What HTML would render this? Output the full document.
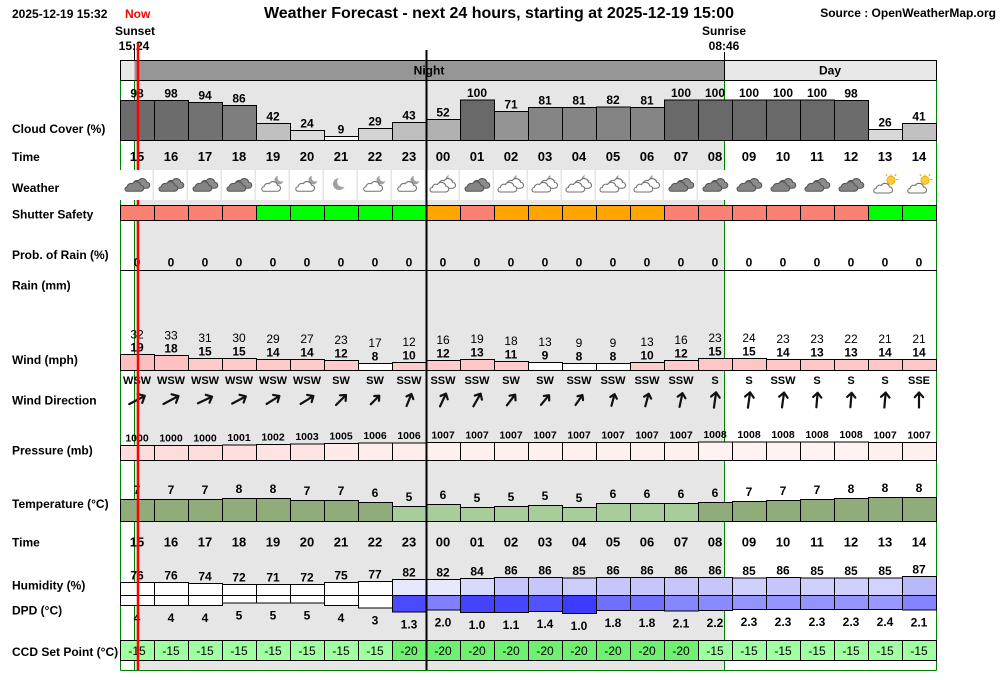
<!DOCTYPE html>
<html><head><meta charset="utf-8"><style>html,body{margin:0;padding:0;background:#fff}svg{display:block}</style></head>
<body>
<svg xmlns="http://www.w3.org/2000/svg" xmlns:xlink="http://www.w3.org/1999/xlink" width="1000" height="680" viewBox="0 0 1000 680" font-family="'Liberation Sans', Arial, sans-serif">
<defs>
<path id="cl" d="M-9 5H9A4 4 0 0 0 9 -3A6 6 0 0 0 -2 -5A5 5 0 0 0 -9 -1A3 3 0 0 0 -9 5Z"/>
<g id="dk" transform="scale(0.75)">
 <use href="#cl" xlink:href="#cl" transform="translate(4,-2)" fill="#8c8c8c" stroke="#555" stroke-width="1.4"/>
 <use href="#cl" xlink:href="#cl" transform="translate(-4,2)" fill="#848484" stroke="#555" stroke-width="1.4"/>
</g>
<g id="cm" transform="scale(0.75)">
 <circle cx="8" cy="-8" r="6" fill="#a0a0a0"/>
 <circle cx="11" cy="-11" r="5" fill="#fff"/>
 <use href="#cl" xlink:href="#cl" transform="translate(-3,2)" fill="#fff" stroke="#707070" stroke-width="1.4"/>
</g>
<g id="mn" transform="scale(0.75)">
 <circle cx="0" cy="0" r="8" fill="#a0a0a0"/>
 <circle cx="4.5" cy="-3" r="7" fill="#fff"/>
</g>
<g id="bn" transform="scale(0.75)">
 <circle cx="10" cy="-9" r="5.5" fill="#a8a8a8"/>
 <circle cx="13" cy="-12" r="4.5" fill="#fff"/>
 <use href="#cl" xlink:href="#cl" transform="translate(5,-2)" fill="#fff" stroke="#707070" stroke-width="1.4"/>
 <use href="#cl" xlink:href="#cl" transform="translate(-4,3)" fill="#fff" stroke="#707070" stroke-width="1.4"/>
</g>
<g id="cs" transform="scale(0.75)">
 <g stroke="#e6a000" stroke-width="1.4">
  <line x1="8" y1="-17" x2="8" y2="-14"/><line x1="15" y1="-10" x2="18" y2="-10"/><line x1="13" y1="-15" x2="15" y2="-17"/><line x1="3" y1="-15" x2="1" y2="-17"/>
 </g>
 <circle cx="8" cy="-9" r="5.5" fill="#ffcc33" stroke="#e6a000" stroke-width="1"/>
 <use href="#cl" xlink:href="#cl" transform="translate(-3,3)" fill="#fff" stroke="#707070" stroke-width="1.4"/>
</g>
<path id="ar" d="M0 8V-8M-4.5 -3L0 -8L4.5 -3" fill="none" stroke="#111" stroke-width="2.2" stroke-linecap="round" stroke-linejoin="round" vector-effect="non-scaling-stroke"/>
</defs>

<rect width="1000" height="680" fill="#fff"/>
<rect x="134.5" y="80.5" width="590" height="590" fill="#e6e6e6"/>

<!-- top texts -->
<g font-size="12" font-weight="bold">
<text x="12" y="18">2025-12-19 15:32</text>
<text x="125" y="18" fill="#ff0000">Now</text>
<text x="996" y="17" text-anchor="end">Source : OpenWeatherMap.org</text>
<text x="135" y="35" text-anchor="middle">Sunset</text>
<text x="134" y="50" text-anchor="middle">15:24</text>
<text x="724" y="35" text-anchor="middle">Sunrise</text>
<text x="724" y="50" text-anchor="middle">08:46</text>
</g>
<text x="499" y="18" font-size="16" font-weight="bold" text-anchor="middle">Weather Forecast - next 24 hours, starting at 2025-12-19 15:00</text>

<!-- header bar -->
<rect x="120.5" y="60.5" width="816" height="20" fill="#e8e8e8" stroke="#000"/>
<rect x="134.5" y="61" width="590" height="19" fill="#969696"/>
<line x1="134.5" y1="45" x2="134.5" y2="60.5" stroke="#000"/>
<line x1="724.5" y1="52" x2="724.5" y2="80.5" stroke="#000"/>
<g font-size="12" font-weight="bold" text-anchor="middle">
<text x="429" y="74.5">Night</text>
<text x="830" y="74.5">Day</text>
</g>

<!-- green frame lines -->
<g stroke="#008000" stroke-width="1">
<line x1="120.5" y1="80.5" x2="120.5" y2="670.5"/>
<line x1="936.5" y1="80.5" x2="936.5" y2="670.5"/>
<line x1="120.5" y1="670.5" x2="936.5" y2="670.5"/>
<line x1="134.5" y1="80.5" x2="134.5" y2="670.5"/>
<line x1="724.5" y1="80.5" x2="724.5" y2="670.5"/>
</g>

<!-- row labels -->
<g font-size="12" font-weight="bold">
<text x="12" y="133">Cloud Cover (%)</text>
<text x="12" y="161">Time</text>
<text x="12" y="192">Weather</text>
<text x="12" y="218.5">Shutter Safety</text>
<text x="12" y="259">Prob. of Rain (%)</text>
<text x="12" y="289.5">Rain (mm)</text>
<text x="12" y="364">Wind (mph)</text>
<text x="12" y="404.5">Wind Direction</text>
<text x="12" y="454.5">Pressure (mb)</text>
<text x="12" y="508">Temperature (°C)</text>
<text x="12" y="546.5">Time</text>
<text x="12" y="589.5">Humidity (%)</text>
<text x="12" y="614.5">DPD (°C)</text>
<text x="12" y="656">CCD Set Point (°C)</text>
</g>

<!-- cloud bars -->
<g stroke="#000" stroke-width="1">
<rect x="120.5" y="100.5" width="34" height="40" fill="#6c6c6c"/>
<rect x="154.5" y="100.5" width="34" height="40" fill="#6c6c6c"/>
<rect x="188.5" y="102.5" width="34" height="38" fill="#727272"/>
<rect x="222.5" y="105.5" width="34" height="35" fill="#7e7e7e"/>
<rect x="256.5" y="123.5" width="34" height="17" fill="#c0c0c0"/>
<rect x="290.5" y="130.5" width="34" height="10" fill="#dbdbdb"/>
<rect x="324.5" y="136.5" width="34" height="4" fill="#f6f6f6"/>
<rect x="358.5" y="128.5" width="34" height="12" fill="#d3d3d3"/>
<rect x="392.5" y="122.5" width="34" height="18" fill="#bebebe"/>
<rect x="426.5" y="119.5" width="34" height="21" fill="#b1b1b1"/>
<rect x="460.5" y="100" width="34" height="40.5" fill="#696969"/>
<rect x="494.5" y="111.5" width="34" height="29" fill="#949494"/>
<rect x="528.5" y="107.5" width="34" height="33" fill="#858585"/>
<rect x="562.5" y="107.5" width="34" height="33" fill="#858585"/>
<rect x="596.5" y="107" width="34" height="33.5" fill="#848484"/>
<rect x="630.5" y="107.5" width="34" height="33" fill="#858585"/>
<rect x="664.5" y="100" width="34" height="40.5" fill="#696969"/>
<rect x="698.5" y="100" width="34" height="40.5" fill="#696969"/>
<rect x="732.5" y="100" width="34" height="40.5" fill="#696969"/>
<rect x="766.5" y="100" width="34" height="40.5" fill="#696969"/>
<rect x="800.5" y="100" width="34" height="40.5" fill="#696969"/>
<rect x="834.5" y="100.5" width="34" height="40" fill="#6c6c6c"/>
<rect x="868.5" y="129.5" width="34" height="11" fill="#d8d8d8"/>
<rect x="902.5" y="123.5" width="34" height="17" fill="#c1c1c1"/>
</g>
<g font-size="12" font-weight="bold" text-anchor="middle">
<text x="137" y="97.5">98</text><text x="171" y="97.5">98</text><text x="205" y="99.5">94</text><text x="239" y="102.5">86</text>
<text x="273" y="120.5">42</text><text x="307" y="127.5">24</text><text x="341" y="133.5">9</text><text x="375" y="125.5">29</text>
<text x="409" y="119.5">43</text><text x="443" y="116.5">52</text><text x="477" y="97">100</text><text x="511" y="108.5">71</text>
<text x="545" y="104.5">81</text><text x="579" y="104.5">81</text><text x="613" y="104">82</text><text x="647" y="104.5">81</text>
<text x="681" y="97">100</text><text x="715" y="97">100</text><text x="749" y="97">100</text><text x="783" y="97">100</text>
<text x="817" y="97">100</text><text x="851" y="97.5">98</text><text x="885" y="126.5">26</text><text x="919" y="120.5">41</text>
</g>

<!-- time row 1 -->
<g font-size="13" font-weight="bold" text-anchor="middle">
<text x="137" y="161">15</text><text x="171" y="161">16</text><text x="205" y="161">17</text><text x="239" y="161">18</text>
<text x="273" y="161">19</text><text x="307" y="161">20</text><text x="341" y="161">21</text><text x="375" y="161">22</text>
<text x="409" y="161">23</text><text x="443" y="161">00</text><text x="477" y="161">01</text><text x="511" y="161">02</text>
<text x="545" y="161">03</text><text x="579" y="161">04</text><text x="613" y="161">05</text><text x="647" y="161">06</text>
<text x="681" y="161">07</text><text x="715" y="161">08</text><text x="749" y="161">09</text><text x="783" y="161">10</text>
<text x="817" y="161">11</text><text x="851" y="161">12</text><text x="885" y="161">13</text><text x="919" y="161">14</text>
</g>

<!-- prob of rain -->
<g font-size="12" font-weight="bold" text-anchor="middle">
<text x="137" y="266.5">0</text><text x="171" y="266.5">0</text><text x="205" y="266.5">0</text><text x="239" y="266.5">0</text>
<text x="273" y="266.5">0</text><text x="307" y="266.5">0</text><text x="341" y="266.5">0</text><text x="375" y="266.5">0</text>
<text x="409" y="266.5">0</text><text x="443" y="266.5">0</text><text x="477" y="266.5">0</text><text x="511" y="266.5">0</text>
<text x="545" y="266.5">0</text><text x="579" y="266.5">0</text><text x="613" y="266.5">0</text><text x="647" y="266.5">0</text>
<text x="681" y="266.5">0</text><text x="715" y="266.5">0</text><text x="749" y="266.5">0</text><text x="783" y="266.5">0</text>
<text x="817" y="266.5">0</text><text x="851" y="266.5">0</text><text x="885" y="266.5">0</text><text x="919" y="266.5">0</text>
</g>
<line x1="120" y1="270.5" x2="937" y2="270.5" stroke="#000"/>

<!-- wind bars -->
<g stroke="#000" stroke-width="1">
<rect x="120.5" y="354.5" width="34" height="16" fill="#ffbebe"/>
<rect x="154.5" y="355.5" width="34" height="15" fill="#ffc0c0"/>
<rect x="188.5" y="358.5" width="34" height="12" fill="#ffcaca"/>
<rect x="222.5" y="358.5" width="34" height="12" fill="#ffcaca"/>
<rect x="256.5" y="359.5" width="34" height="11" fill="#ffcaca"/>
<rect x="290.5" y="359.5" width="34" height="11" fill="#ffcaca"/>
<rect x="324.5" y="360.5" width="34" height="10" fill="#ffcaca"/>
<rect x="358.5" y="363.5" width="34" height="7" fill="#ffffff"/>
<rect x="392.5" y="362.5" width="34" height="8" fill="#ffcccc"/>
<rect x="426.5" y="360.5" width="34" height="10" fill="#ffcaca"/>
<rect x="460.5" y="359.5" width="34" height="11" fill="#ffc8c8"/>
<rect x="494.5" y="361.5" width="34" height="9" fill="#ffcccc"/>
<rect x="528.5" y="362.5" width="34" height="8" fill="#ffffff"/>
<rect x="562.5" y="363.5" width="34" height="7" fill="#ffffff"/>
<rect x="596.5" y="363.5" width="34" height="7" fill="#ffffff"/>
<rect x="630.5" y="362.5" width="34" height="8" fill="#ffcccc"/>
<rect x="664.5" y="360.5" width="34" height="10" fill="#ffcaca"/>
<rect x="698.5" y="358.5" width="34" height="12" fill="#ffc6c6"/>
<rect x="732.5" y="358.5" width="34" height="12" fill="#ffc6c6"/>
<rect x="766.5" y="359.5" width="34" height="11" fill="#ffc8c8"/>
<rect x="800.5" y="359.5" width="34" height="11" fill="#ffc8c8"/>
<rect x="834.5" y="359.5" width="34" height="11" fill="#ffc8c8"/>
<rect x="868.5" y="359.5" width="34" height="11" fill="#ffc8c8"/>
<rect x="902.5" y="359.5" width="34" height="11" fill="#ffc8c8"/>
</g>
<g font-size="12" text-anchor="middle">
<text x="137" y="338.5">32</text><text x="171" y="339.5">33</text><text x="205" y="342">31</text><text x="239" y="342">30</text>
<text x="273" y="343">29</text><text x="307" y="343">27</text><text x="341" y="344">23</text><text x="375" y="347">17</text>
<text x="409" y="346">12</text><text x="443" y="344">16</text><text x="477" y="343">19</text><text x="511" y="345">18</text>
<text x="545" y="346">13</text><text x="579" y="347">9</text><text x="613" y="347">9</text><text x="647" y="346">13</text>
<text x="681" y="344">16</text><text x="715" y="342">23</text><text x="749" y="342">24</text><text x="783" y="343">23</text>
<text x="817" y="343">23</text><text x="851" y="343">22</text><text x="885" y="343">21</text><text x="919" y="343">21</text>
</g>
<g font-size="12" font-weight="bold" text-anchor="middle">
<text x="137" y="351.5">19</text><text x="171" y="352.5">18</text><text x="205" y="355.5">15</text><text x="239" y="355.5">15</text>
<text x="273" y="356.5">14</text><text x="307" y="356.5">14</text><text x="341" y="357.5">12</text><text x="375" y="360.5">8</text>
<text x="409" y="359.5">10</text><text x="443" y="357.5">12</text><text x="477" y="356.5">13</text><text x="511" y="358.5">11</text>
<text x="545" y="359.5">9</text><text x="579" y="360.5">8</text><text x="613" y="360.5">8</text><text x="647" y="359.5">10</text>
<text x="681" y="357.5">12</text><text x="715" y="355.5">15</text><text x="749" y="355.5">15</text><text x="783" y="356.5">14</text>
<text x="817" y="356.5">13</text><text x="851" y="356.5">13</text><text x="885" y="356.5">14</text><text x="919" y="356.5">14</text>
</g>

<!-- wind direction -->
<g font-size="11" font-weight="bold" text-anchor="middle">
<text x="137" y="384">WSW</text><text x="171" y="384">WSW</text><text x="205" y="384">WSW</text><text x="239" y="384">WSW</text>
<text x="273" y="384">WSW</text><text x="307" y="384">WSW</text><text x="341" y="384">SW</text><text x="375" y="384">SW</text>
<text x="409" y="384">SSW</text><text x="443" y="384">SSW</text><text x="477" y="384">SSW</text><text x="511" y="384">SW</text>
<text x="545" y="384">SW</text><text x="579" y="384">SSW</text><text x="613" y="384">SSW</text><text x="647" y="384">SSW</text>
<text x="681" y="384">SSW</text><text x="715" y="384">S</text><text x="749" y="384">S</text><text x="783" y="384">SSW</text>
<text x="817" y="384">S</text><text x="851" y="384">S</text><text x="885" y="384">S</text><text x="919" y="384">SSE</text>
</g>
<g>
<use href="#ar" xlink:href="#ar" transform="translate(137,400) rotate(62) scale(1.1)"/>
<use href="#ar" xlink:href="#ar" transform="translate(171,400) rotate(62) scale(1.06)"/>
<use href="#ar" xlink:href="#ar" transform="translate(205,400) rotate(65) scale(0.97)"/>
<use href="#ar" xlink:href="#ar" transform="translate(239,400) rotate(62) scale(0.97)"/>
<use href="#ar" xlink:href="#ar" transform="translate(273,400) rotate(58) scale(0.94)"/>
<use href="#ar" xlink:href="#ar" transform="translate(307,400) rotate(58) scale(0.94)"/>
<use href="#ar" xlink:href="#ar" transform="translate(341,400) rotate(45) scale(0.88)"/>
<use href="#ar" xlink:href="#ar" transform="translate(375,400) rotate(45) scale(0.75)"/>
<use href="#ar" xlink:href="#ar" transform="translate(409,400) rotate(22) scale(0.81)"/>
<use href="#ar" xlink:href="#ar" transform="translate(443,400) rotate(25) scale(0.88)"/>
<use href="#ar" xlink:href="#ar" transform="translate(477,400) rotate(30) scale(0.91)"/>
<use href="#ar" xlink:href="#ar" transform="translate(511,400) rotate(38) scale(0.84)"/>
<use href="#ar" xlink:href="#ar" transform="translate(545,400) rotate(40) scale(0.78)"/>
<use href="#ar" xlink:href="#ar" transform="translate(579,400) rotate(35) scale(0.75)"/>
<use href="#ar" xlink:href="#ar" transform="translate(613,400) rotate(15) scale(0.75)"/>
<use href="#ar" xlink:href="#ar" transform="translate(647,400) rotate(15) scale(0.81)"/>
<use href="#ar" xlink:href="#ar" transform="translate(681,400) rotate(12) scale(0.88)"/>
<use href="#ar" xlink:href="#ar" transform="translate(715,400) rotate(8) scale(0.97)"/>
<use href="#ar" xlink:href="#ar" transform="translate(749,400) rotate(8) scale(0.97)"/>
<use href="#ar" xlink:href="#ar" transform="translate(783,400) rotate(8) scale(0.94)"/>
<use href="#ar" xlink:href="#ar" transform="translate(817,400) rotate(5) scale(0.91)"/>
<use href="#ar" xlink:href="#ar" transform="translate(851,400) rotate(5) scale(0.91)"/>
<use href="#ar" xlink:href="#ar" transform="translate(885,400) rotate(5) scale(0.94)"/>
<use href="#ar" xlink:href="#ar" transform="translate(919,400) rotate(0) scale(0.94)"/>
</g>

<!-- pressure -->
<g stroke="#000" stroke-width="1">
<rect x="120.5" y="445.5" width="34" height="15" fill="#ffdcdc"/>
<rect x="154.5" y="445.5" width="34" height="15" fill="#ffdcdc"/>
<rect x="188.5" y="445.5" width="34" height="15" fill="#ffdcdc"/>
<rect x="222.5" y="445" width="34" height="15.5" fill="#ffdede"/>
<rect x="256.5" y="444.5" width="34" height="16" fill="#ffe2e2"/>
<rect x="290.5" y="444" width="34" height="16.5" fill="#ffe4e4"/>
<rect x="324.5" y="443.5" width="34" height="17" fill="#ffeaea"/>
<rect x="358.5" y="443" width="34" height="17.5" fill="#ffecec"/>
<rect x="392.5" y="443" width="34" height="17.5" fill="#ffecec"/>
<rect x="426.5" y="442.5" width="34" height="18" fill="#fff0f0"/>
<rect x="460.5" y="442.5" width="34" height="18" fill="#fff0f0"/>
<rect x="494.5" y="442.5" width="34" height="18" fill="#fff0f0"/>
<rect x="528.5" y="442.5" width="34" height="18" fill="#fff0f0"/>
<rect x="562.5" y="442.5" width="34" height="18" fill="#fff0f0"/>
<rect x="596.5" y="442.5" width="34" height="18" fill="#fff0f0"/>
<rect x="630.5" y="442.5" width="34" height="18" fill="#fff0f0"/>
<rect x="664.5" y="442.5" width="34" height="18" fill="#fff0f0"/>
<rect x="698.5" y="442" width="34" height="18.5" fill="#fff2f2"/>
<rect x="732.5" y="442" width="34" height="18.5" fill="#fff2f2"/>
<rect x="766.5" y="442" width="34" height="18.5" fill="#fff2f2"/>
<rect x="800.5" y="442" width="34" height="18.5" fill="#fff2f2"/>
<rect x="834.5" y="442" width="34" height="18.5" fill="#fff2f2"/>
<rect x="868.5" y="442.5" width="34" height="18" fill="#fff0f0"/>
<rect x="902.5" y="442.5" width="34" height="18" fill="#fff0f0"/>
</g>
<g font-size="10.5" font-weight="bold" text-anchor="middle">
<text x="137" y="441.5">1000</text><text x="171" y="441.5">1000</text><text x="205" y="441.5">1000</text><text x="239" y="441">1001</text>
<text x="273" y="440.5">1002</text><text x="307" y="440">1003</text><text x="341" y="439.5">1005</text><text x="375" y="439">1006</text>
<text x="409" y="439">1006</text><text x="443" y="438.5">1007</text><text x="477" y="438.5">1007</text><text x="511" y="438.5">1007</text>
<text x="545" y="438.5">1007</text><text x="579" y="438.5">1007</text><text x="613" y="438.5">1007</text><text x="647" y="438.5">1007</text>
<text x="681" y="438.5">1007</text><text x="715" y="438">1008</text><text x="749" y="438">1008</text><text x="783" y="438">1008</text>
<text x="817" y="438">1008</text><text x="851" y="438">1008</text><text x="885" y="438.5">1007</text><text x="919" y="438.5">1007</text>
</g>

<!-- temperature -->
<g stroke="#000" stroke-width="1">
<rect x="120.5" y="499.5" width="34" height="22" fill="#8fac7a"/>
<rect x="154.5" y="499.5" width="34" height="22" fill="#8fac7a"/>
<rect x="188.5" y="499.5" width="34" height="22" fill="#8fac7a"/>
<rect x="222.5" y="498.5" width="34" height="23" fill="#8fac7a"/>
<rect x="256.5" y="498.5" width="34" height="23" fill="#8fac7a"/>
<rect x="290.5" y="500.5" width="34" height="21" fill="#8fac7a"/>
<rect x="324.5" y="500.5" width="34" height="21" fill="#8fac7a"/>
<rect x="358.5" y="502.5" width="34" height="19" fill="#8fac7a"/>
<rect x="392.5" y="506.5" width="34" height="15" fill="#a8cd9a"/>
<rect x="426.5" y="504.5" width="34" height="17" fill="#a8cd9a"/>
<rect x="460.5" y="507.5" width="34" height="14" fill="#a8cd9a"/>
<rect x="494.5" y="506.5" width="34" height="15" fill="#a8cd9a"/>
<rect x="528.5" y="505.5" width="34" height="16" fill="#a8cd9a"/>
<rect x="562.5" y="507.5" width="34" height="14" fill="#a8cd9a"/>
<rect x="596.5" y="503.5" width="34" height="18" fill="#a8cd9a"/>
<rect x="630.5" y="503.5" width="34" height="18" fill="#a8cd9a"/>
<rect x="664.5" y="503.5" width="34" height="18" fill="#a8cd9a"/>
<rect x="698.5" y="502.5" width="34" height="19" fill="#8fac7a"/>
<rect x="732.5" y="501.5" width="34" height="20" fill="#8fac7a"/>
<rect x="766.5" y="500.5" width="34" height="21" fill="#8fac7a"/>
<rect x="800.5" y="499.5" width="34" height="22" fill="#8fac7a"/>
<rect x="834.5" y="498.5" width="34" height="23" fill="#8fac7a"/>
<rect x="868.5" y="497.5" width="34" height="24" fill="#8fac7a"/>
<rect x="902.5" y="497.5" width="34" height="24" fill="#8fac7a"/>
</g>
<g font-size="12" font-weight="bold" text-anchor="middle">
<text x="137" y="494">7</text><text x="171" y="494">7</text><text x="205" y="494">7</text><text x="239" y="493">8</text>
<text x="273" y="493">8</text><text x="307" y="495">7</text><text x="341" y="495">7</text><text x="375" y="497">6</text>
<text x="409" y="501">5</text><text x="443" y="499">6</text><text x="477" y="502">5</text><text x="511" y="501">5</text>
<text x="545" y="500">5</text><text x="579" y="502">5</text><text x="613" y="498">6</text><text x="647" y="498">6</text>
<text x="681" y="498">6</text><text x="715" y="497">6</text><text x="749" y="496">7</text><text x="783" y="495">7</text>
<text x="817" y="494">7</text><text x="851" y="493">8</text><text x="885" y="492">8</text><text x="919" y="492">8</text>
</g>

<!-- time row 2 -->
<g font-size="13" font-weight="bold" text-anchor="middle">
<text x="137" y="546.5">15</text><text x="171" y="546.5">16</text><text x="205" y="546.5">17</text><text x="239" y="546.5">18</text>
<text x="273" y="546.5">19</text><text x="307" y="546.5">20</text><text x="341" y="546.5">21</text><text x="375" y="546.5">22</text>
<text x="409" y="546.5">23</text><text x="443" y="546.5">00</text><text x="477" y="546.5">01</text><text x="511" y="546.5">02</text>
<text x="545" y="546.5">03</text><text x="579" y="546.5">04</text><text x="613" y="546.5">05</text><text x="647" y="546.5">06</text>
<text x="681" y="546.5">07</text><text x="715" y="546.5">08</text><text x="749" y="546.5">09</text><text x="783" y="546.5">10</text>
<text x="817" y="546.5">11</text><text x="851" y="546.5">12</text><text x="885" y="546.5">13</text><text x="919" y="546.5">14</text>
</g>

<!-- humidity -->
<g stroke="#000" stroke-width="1">
<rect x="120.5" y="582.5" width="34" height="13" fill="#fff"/>
<rect x="154.5" y="582.5" width="34" height="13" fill="#fff"/>
<rect x="188.5" y="583.5" width="34" height="12" fill="#fff"/>
<rect x="222.5" y="584.5" width="34" height="11" fill="#fff"/>
<rect x="256.5" y="584.5" width="34" height="11" fill="#fff"/>
<rect x="290.5" y="584.5" width="34" height="11" fill="#fff"/>
<rect x="324.5" y="582.5" width="34" height="13" fill="#fff"/>
<rect x="358.5" y="581.5" width="34" height="14" fill="#fff"/>
<rect x="392.5" y="579.5" width="34" height="16" fill="#e8e8fd"/>
<rect x="426.5" y="579.5" width="34" height="16" fill="#e8e8fd"/>
<rect x="460.5" y="578.5" width="34" height="17" fill="#d8d8fd"/>
<rect x="494.5" y="577.5" width="34" height="18" fill="#c6c6fd"/>
<rect x="528.5" y="577.5" width="34" height="18" fill="#c6c6fd"/>
<rect x="562.5" y="578" width="34" height="17.5" fill="#cdcdfd"/>
<rect x="596.5" y="577.5" width="34" height="18" fill="#c6c6fd"/>
<rect x="630.5" y="577.5" width="34" height="18" fill="#c6c6fd"/>
<rect x="664.5" y="577.5" width="34" height="18" fill="#c6c6fd"/>
<rect x="698.5" y="577.5" width="34" height="18" fill="#c6c6fd"/>
<rect x="732.5" y="578" width="34" height="17.5" fill="#d0d0fe"/>
<rect x="766.5" y="577.5" width="34" height="18" fill="#c6c6fd"/>
<rect x="800.5" y="578" width="34" height="17.5" fill="#d0d0fe"/>
<rect x="834.5" y="578" width="34" height="17.5" fill="#d0d0fe"/>
<rect x="868.5" y="578" width="34" height="17.5" fill="#d2d2fe"/>
<rect x="902.5" y="576.5" width="34" height="19" fill="#b8b8fd"/>
</g>
<g font-size="12" font-weight="bold" text-anchor="middle">
<text x="137" y="579.5">76</text><text x="171" y="579.5">76</text><text x="205" y="580.5">74</text><text x="239" y="581.5">72</text>
<text x="273" y="581.5">71</text><text x="307" y="581.5">72</text><text x="341" y="579.5">75</text><text x="375" y="578.5">77</text>
<text x="409" y="576.5">82</text><text x="443" y="576.5">82</text><text x="477" y="575.5">84</text><text x="511" y="574.5">86</text>
<text x="545" y="574.5">86</text><text x="579" y="575">85</text><text x="613" y="574.5">86</text><text x="647" y="574.5">86</text>
<text x="681" y="574.5">86</text><text x="715" y="574.5">86</text><text x="749" y="575">85</text><text x="783" y="574.5">86</text>
<text x="817" y="575">85</text><text x="851" y="575">85</text><text x="885" y="575">85</text><text x="919" y="573.5">87</text>
</g>

<!-- DPD -->
<g stroke="#000" stroke-width="1">
<rect x="120.5" y="595.5" width="34" height="10" fill="#fff"/>
<rect x="154.5" y="595.5" width="34" height="10" fill="#fff"/>
<rect x="188.5" y="595.5" width="34" height="10" fill="#fff"/>
<rect x="222.5" y="595.5" width="34" height="7.5" fill="#fff"/>
<rect x="256.5" y="595.5" width="34" height="7.5" fill="#fff"/>
<rect x="290.5" y="595.5" width="34" height="7.5" fill="#fff"/>
<rect x="324.5" y="595.5" width="34" height="10" fill="#fff"/>
<rect x="358.5" y="595.5" width="34" height="12.5" fill="#fff"/>
<rect x="392.5" y="595.5" width="34" height="16.5" fill="#4a4aff"/>
<rect x="426.5" y="595.5" width="34" height="14.5" fill="#8080ff"/>
<rect x="460.5" y="595.5" width="34" height="17" fill="#4444ff"/>
<rect x="494.5" y="595.5" width="34" height="17" fill="#4646ff"/>
<rect x="528.5" y="595.5" width="34" height="16" fill="#5252ff"/>
<rect x="562.5" y="595.5" width="34" height="18" fill="#3c3cff"/>
<rect x="596.5" y="595.5" width="34" height="15" fill="#7070ff"/>
<rect x="630.5" y="595.5" width="34" height="15" fill="#7070ff"/>
<rect x="664.5" y="595.5" width="34" height="15.5" fill="#8686ff"/>
<rect x="698.5" y="595.5" width="34" height="15" fill="#8a8aff"/>
<rect x="732.5" y="595.5" width="34" height="14" fill="#9494ff"/>
<rect x="766.5" y="595.5" width="34" height="14" fill="#9494ff"/>
<rect x="800.5" y="595.5" width="34" height="14" fill="#9494ff"/>
<rect x="834.5" y="595.5" width="34" height="14" fill="#9494ff"/>
<rect x="868.5" y="595.5" width="34" height="14" fill="#9898ff"/>
<rect x="902.5" y="595.5" width="34" height="14.5" fill="#8484ff"/>
</g>
<g font-size="12" font-weight="bold" text-anchor="middle">
<text x="137" y="622">4</text><text x="171" y="622">4</text><text x="205" y="622">4</text><text x="239" y="619.5">5</text>
<text x="273" y="619.5">5</text><text x="307" y="619.5">5</text><text x="341" y="622">4</text><text x="375" y="624.5">3</text>
<text x="409" y="628.5">1.3</text><text x="443" y="626.5">2.0</text><text x="477" y="629">1.0</text><text x="511" y="629">1.1</text>
<text x="545" y="628">1.4</text><text x="579" y="630">1.0</text><text x="613" y="627">1.8</text><text x="647" y="627">1.8</text>
<text x="681" y="627.5">2.1</text><text x="715" y="627">2.2</text><text x="749" y="626">2.3</text><text x="783" y="626">2.3</text>
<text x="817" y="626">2.3</text><text x="851" y="626">2.3</text><text x="885" y="626">2.4</text><text x="919" y="626.5">2.1</text>
</g>

<!-- CCD -->
<g stroke="#000" stroke-width="1">
<rect x="120.5" y="640.5" width="34" height="20" fill="#a0ffa0"/>
<rect x="154.5" y="640.5" width="34" height="20" fill="#a0ffa0"/>
<rect x="188.5" y="640.5" width="34" height="20" fill="#a0ffa0"/>
<rect x="222.5" y="640.5" width="34" height="20" fill="#a0ffa0"/>
<rect x="256.5" y="640.5" width="34" height="20" fill="#a0ffa0"/>
<rect x="290.5" y="640.5" width="34" height="20" fill="#a0ffa0"/>
<rect x="324.5" y="640.5" width="34" height="20" fill="#a0ffa0"/>
<rect x="358.5" y="640.5" width="34" height="20" fill="#a0ffa0"/>
<rect x="392.5" y="640.5" width="34" height="20" fill="#70f070"/>
<rect x="426.5" y="640.5" width="34" height="20" fill="#70f070"/>
<rect x="460.5" y="640.5" width="34" height="20" fill="#70f070"/>
<rect x="494.5" y="640.5" width="34" height="20" fill="#70f070"/>
<rect x="528.5" y="640.5" width="34" height="20" fill="#70f070"/>
<rect x="562.5" y="640.5" width="34" height="20" fill="#70f070"/>
<rect x="596.5" y="640.5" width="34" height="20" fill="#70f070"/>
<rect x="630.5" y="640.5" width="34" height="20" fill="#70f070"/>
<rect x="664.5" y="640.5" width="34" height="20" fill="#70f070"/>
<rect x="698.5" y="640.5" width="34" height="20" fill="#a0ffa0"/>
<rect x="732.5" y="640.5" width="34" height="20" fill="#a0ffa0"/>
<rect x="766.5" y="640.5" width="34" height="20" fill="#a0ffa0"/>
<rect x="800.5" y="640.5" width="34" height="20" fill="#a0ffa0"/>
<rect x="834.5" y="640.5" width="34" height="20" fill="#a0ffa0"/>
<rect x="868.5" y="640.5" width="34" height="20" fill="#a0ffa0"/>
<rect x="902.5" y="640.5" width="34" height="20" fill="#a0ffa0"/>
</g>
<g font-size="12" text-anchor="middle">
<text x="137" y="655">-15</text><text x="171" y="655">-15</text><text x="205" y="655">-15</text><text x="239" y="655">-15</text>
<text x="273" y="655">-15</text><text x="307" y="655">-15</text><text x="341" y="655">-15</text><text x="375" y="655">-15</text>
<text x="409" y="655">-20</text><text x="443" y="655">-20</text><text x="477" y="655">-20</text><text x="511" y="655">-20</text>
<text x="545" y="655">-20</text><text x="579" y="655">-20</text><text x="613" y="655">-20</text><text x="647" y="655">-20</text>
<text x="681" y="655">-20</text><text x="715" y="655">-15</text><text x="749" y="655">-15</text><text x="783" y="655">-15</text>
<text x="817" y="655">-15</text><text x="851" y="655">-15</text><text x="885" y="655">-15</text><text x="919" y="655">-15</text>
</g>

<!-- now line -->
<line x1="138" y1="43" x2="138" y2="670" stroke="#ff0000" stroke-width="2.5"/>

<!-- weather cells -->
<g fill="#fff">
<rect x="120" y="170" width="32.5" height="30"/><rect x="154" y="170" width="32.5" height="30"/><rect x="188" y="170" width="32.5" height="30"/><rect x="222" y="170" width="32.5" height="30"/>
<rect x="256" y="170" width="32.5" height="30"/><rect x="290" y="170" width="32.5" height="30"/><rect x="324" y="170" width="32.5" height="30"/><rect x="358" y="170" width="32.5" height="30"/>
<rect x="392" y="170" width="32.5" height="30"/><rect x="426" y="170" width="32.5" height="30"/><rect x="460" y="170" width="32.5" height="30"/><rect x="494" y="170" width="32.5" height="30"/>
<rect x="528" y="170" width="32.5" height="30"/><rect x="562" y="170" width="32.5" height="30"/><rect x="596" y="170" width="32.5" height="30"/><rect x="630" y="170" width="32.5" height="30"/>
<rect x="664" y="170" width="32.5" height="30"/><rect x="698" y="170" width="32.5" height="30"/><rect x="732" y="170" width="32.5" height="30"/><rect x="766" y="170" width="32.5" height="30"/>
<rect x="800" y="170" width="32.5" height="30"/><rect x="834" y="170" width="32.5" height="30"/><rect x="868" y="170" width="34" height="30"/><rect x="902" y="170" width="34" height="30"/>
</g>
<use href="#dk" xlink:href="#dk" x="137" y="186"/>
<use href="#dk" xlink:href="#dk" x="171" y="186"/>
<use href="#dk" xlink:href="#dk" x="205" y="186"/>
<use href="#dk" xlink:href="#dk" x="239" y="186"/>
<use href="#cm" xlink:href="#cm" x="273" y="186"/>
<use href="#cm" xlink:href="#cm" x="307" y="186"/>
<use href="#mn" xlink:href="#mn" x="339" y="184"/>
<use href="#cm" xlink:href="#cm" x="375" y="186"/>
<use href="#cm" xlink:href="#cm" x="409" y="186"/>
<use href="#bn" xlink:href="#bn" x="442" y="186"/>
<use href="#dk" xlink:href="#dk" x="477" y="186"/>
<use href="#bn" xlink:href="#bn" x="510" y="186"/>
<use href="#bn" xlink:href="#bn" x="544" y="186"/>
<use href="#bn" xlink:href="#bn" x="578" y="186"/>
<use href="#bn" xlink:href="#bn" x="612" y="186"/>
<use href="#bn" xlink:href="#bn" x="646" y="186"/>
<use href="#dk" xlink:href="#dk" x="681" y="186"/>
<use href="#dk" xlink:href="#dk" x="715" y="186"/>
<use href="#dk" xlink:href="#dk" x="749" y="186"/>
<use href="#dk" xlink:href="#dk" x="783" y="186"/>
<use href="#dk" xlink:href="#dk" x="817" y="186"/>
<use href="#dk" xlink:href="#dk" x="851" y="186"/>
<use href="#cs" xlink:href="#cs" x="885" y="187"/>
<use href="#cs" xlink:href="#cs" x="919" y="187"/>

<!-- shutter safety -->
<g stroke="#000" stroke-width="1">
<rect x="120.5" y="205.5" width="34" height="15" fill="#fa8072"/>
<rect x="154.5" y="205.5" width="34" height="15" fill="#fa8072"/>
<rect x="188.5" y="205.5" width="34" height="15" fill="#fa8072"/>
<rect x="222.5" y="205.5" width="34" height="15" fill="#fa8072"/>
<rect x="256.5" y="205.5" width="34" height="15" fill="#00ff00"/>
<rect x="290.5" y="205.5" width="34" height="15" fill="#00ff00"/>
<rect x="324.5" y="205.5" width="34" height="15" fill="#00ff00"/>
<rect x="358.5" y="205.5" width="34" height="15" fill="#00ff00"/>
<rect x="392.5" y="205.5" width="34" height="15" fill="#00ff00"/>
<rect x="426.5" y="205.5" width="34" height="15" fill="#ffa500"/>
<rect x="460.5" y="205.5" width="34" height="15" fill="#fa8072"/>
<rect x="494.5" y="205.5" width="34" height="15" fill="#ffa500"/>
<rect x="528.5" y="205.5" width="34" height="15" fill="#ffa500"/>
<rect x="562.5" y="205.5" width="34" height="15" fill="#ffa500"/>
<rect x="596.5" y="205.5" width="34" height="15" fill="#ffa500"/>
<rect x="630.5" y="205.5" width="34" height="15" fill="#ffa500"/>
<rect x="664.5" y="205.5" width="34" height="15" fill="#fa8072"/>
<rect x="698.5" y="205.5" width="34" height="15" fill="#fa8072"/>
<rect x="732.5" y="205.5" width="34" height="15" fill="#fa8072"/>
<rect x="766.5" y="205.5" width="34" height="15" fill="#fa8072"/>
<rect x="800.5" y="205.5" width="34" height="15" fill="#fa8072"/>
<rect x="834.5" y="205.5" width="34" height="15" fill="#fa8072"/>
<rect x="868.5" y="205.5" width="34" height="15" fill="#00ff00"/>
<rect x="902.5" y="205.5" width="34" height="15" fill="#00ff00"/>
</g>

<!-- midnight line -->
<line x1="426.5" y1="50" x2="426.5" y2="670" stroke="#000" stroke-width="2"/>
</svg>
</body></html>
